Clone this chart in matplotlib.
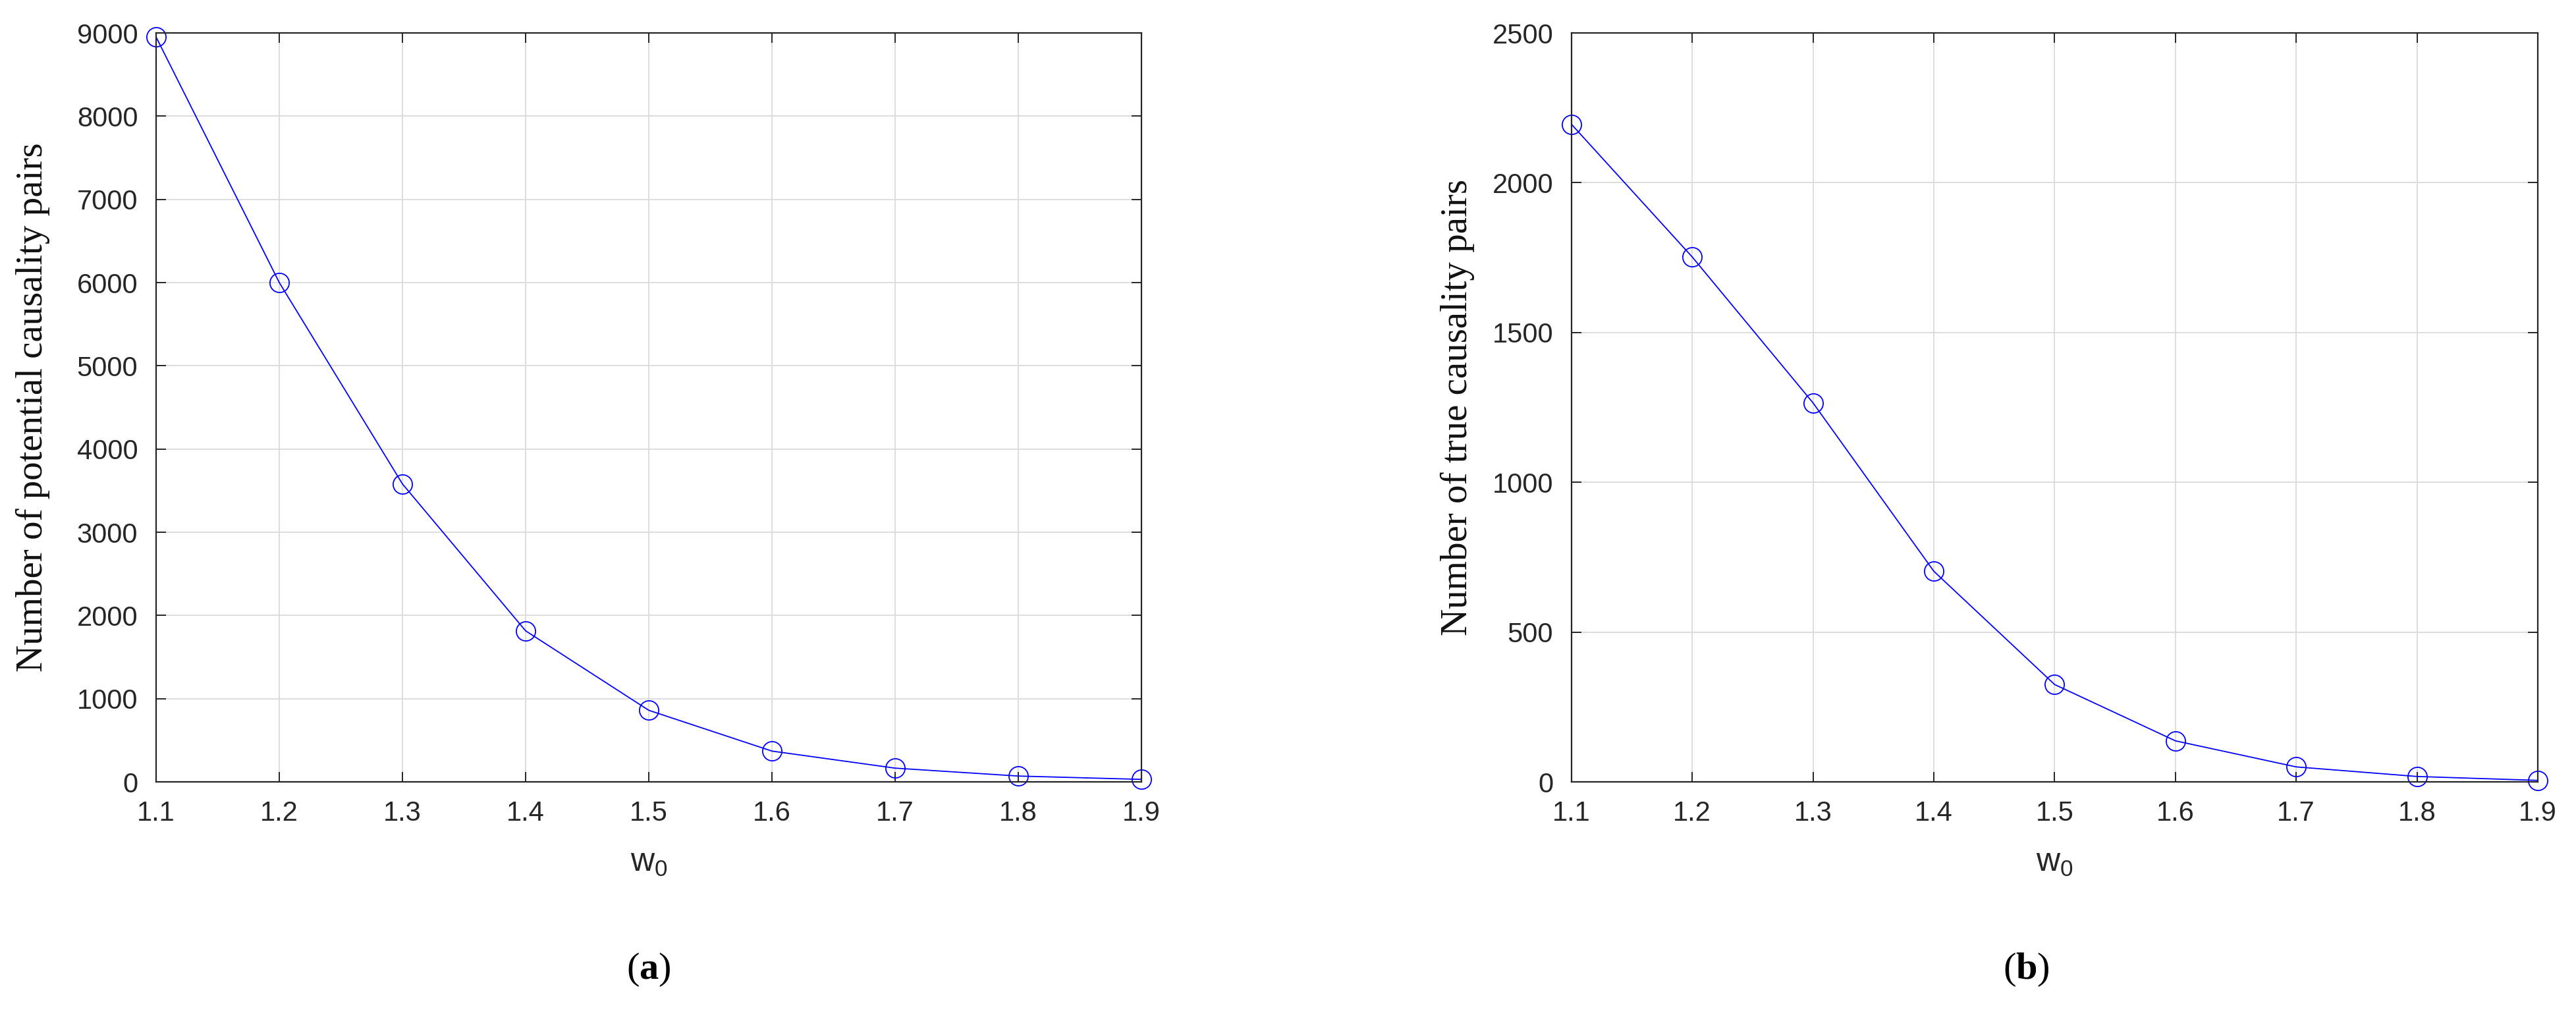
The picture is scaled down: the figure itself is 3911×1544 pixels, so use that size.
import numpy as np
import matplotlib
matplotlib.use("Agg")
import matplotlib.pyplot as plt

# threshold w0 on the x axis
w0 = [1.1, 1.2, 1.3, 1.4, 1.5, 1.6, 1.7, 1.8, 1.9]

# (a) potential causality pairs, (b) true causality pairs
potential_pairs = [8950, 6000, 3580, 1815, 860, 370, 165, 70, 30]
true_pairs = [2195, 1752, 1265, 703, 325, 137, 50, 18, 5]

x_ticks = [1.1, 1.2, 1.3, 1.4, 1.5, 1.6, 1.7, 1.8, 1.9]
y_ticks_a = [0, 1000, 2000, 3000, 4000, 5000, 6000, 7000, 8000, 9000]
y_ticks_b = [0, 500, 1000, 1500, 2000, 2500]

plt.rcParams['mathtext.fontset'] = 'custom'
plt.rcParams['mathtext.rm'] = 'Liberation Serif'
plt.rcParams['mathtext.bf'] = 'Liberation Serif:bold'

AX_COLOR = '#262626'
TICK_FONT = 'Liberation Sans'
LABEL_FONT = 'Liberation Serif'

fig = plt.figure(figsize=(39.12, 15.44), dpi=100)
ax_a = fig.add_axes([0.0606, 0.2312, 0.3824, 0.7364])
ax_b = fig.add_axes([0.6099, 0.2312, 0.3750, 0.7364])


def style_axes(ax, yticks, ylabel, ylabel_x):
    ax.set_xlim(1.1, 1.9)
    ax.set_ylim(yticks[0], yticks[-1])
    ax.set_xticks(x_ticks)
    ax.set_yticks(yticks)
    ax.set_xticklabels([f'{v:.1f}' for v in x_ticks])
    ax.set_yticklabels([str(v) for v in yticks])
    ax.grid(True, color='#dadada', linewidth=1.3)
    ax.set_axisbelow(True)
    for s in ax.spines.values():
        s.set_color(AX_COLOR)
        s.set_linewidth(1.6)
    ax.tick_params(direction='in', length=11, width=1.4, color=AX_COLOR,
                   top=True, right=True, labelsize=30, labelcolor=AX_COLOR)
    ax.tick_params(axis='x', pad=20)
    ax.tick_params(axis='y', pad=20)
    for lab in ax.get_xticklabels() + ax.get_yticklabels():
        lab.set_fontfamily(TICK_FONT)
    # subscript label below the ticks
    ax.set_xlabel(r'$\mathregular{w_0}$', fontsize=36, family=TICK_FONT,
                  color=AX_COLOR, va='center')
    ax.xaxis.set_label_coords(0.5, -0.108)
    ax.set_ylabel(ylabel, fontsize=41, family=LABEL_FONT, color='#111111',
                  va='center', ha='center')
    ax.yaxis.set_label_coords(ylabel_x, 0.5)


ax_a.plot(w0, potential_pairs, color='#0000ff', linewidth=1.3, marker='o',
          markersize=21, markerfacecolor='none', markeredgewidth=1.3,
          clip_on=False)
style_axes(ax_a, y_ticks_a, 'Number of potential causality pairs', -0.125)

ax_b.plot(w0, true_pairs, color='#0000ff', linewidth=1.3, marker='o',
          markersize=21, markerfacecolor='none', markeredgewidth=1.3,
          clip_on=False)
style_axes(ax_b, y_ticks_b, 'Number of true causality pairs', -0.118)

fig.text(985 / 3912, 1 - 1472 / 1544, r'($\mathbf{a}$)', fontsize=42,
         family=LABEL_FONT, ha='center', va='center')
fig.text(3076 / 3912, 1 - 1472 / 1544, r'($\mathbf{b}$)', fontsize=42,
         family=LABEL_FONT, ha='center', va='center')

fig.savefig('out.png', dpi=100, facecolor='white')
